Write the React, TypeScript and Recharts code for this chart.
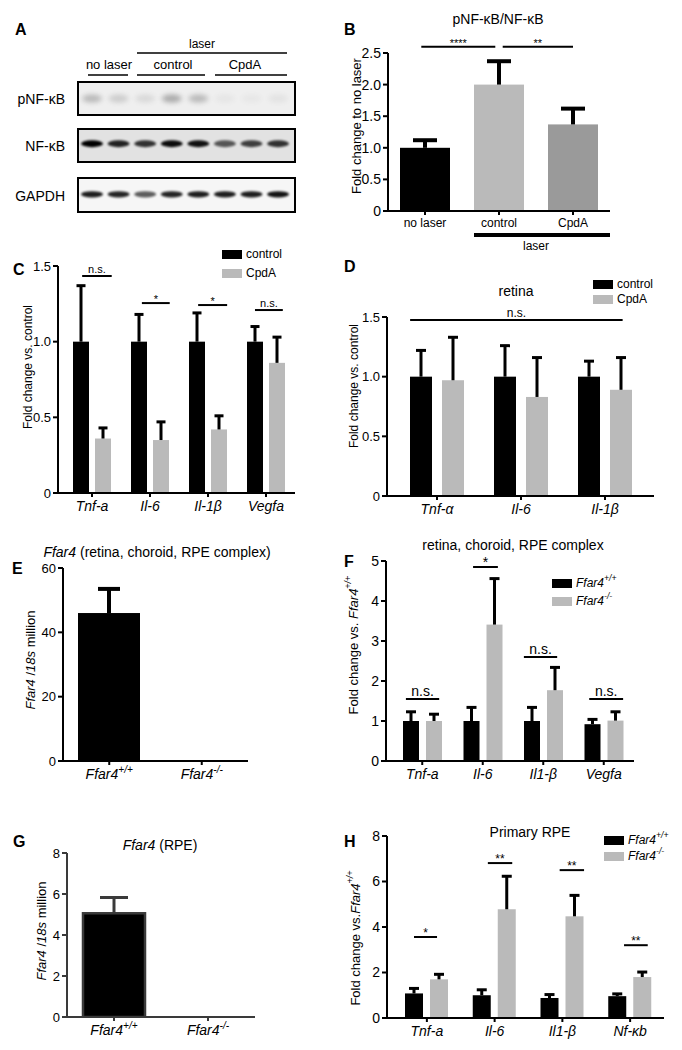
import React from "react";
import { BarChart, Bar, Cell, XAxis, YAxis, ReferenceLine, ScatterChart, Scatter } from "recharts";

const FONT = '"Liberation Sans", Arial, Helvetica, sans-serif';

// A: western blot, relative band intensity per lane
const blotLanes = [1, 2, 3, 4, 5, 6, 7, 8];
const pNfkbBands = [0.35, 0.22, 0.14, 0.45, 0.35, 0.06, 0.05, 0.08];
const nfkbBands = [1.0, 0.85, 0.78, 0.95, 0.92, 0.62, 0.72, 0.78];
const gapdhBands = [0.88, 0.85, 0.62, 0.85, 0.88, 0.88, 0.88, 0.92];

// B: pNF-kB / NF-kB
const bGroups = ["no laser", "control", "CpdA"];
const bMeans = [1.0, 2.0, 1.37];
const bSem = [0.12, 0.37, 0.25];

// C: choroid, control vs CpdA
const cGenes = ["Tnf-a", "Il-6", "Il-1β", "Vegfa"];
const cControl = [1, 1, 1, 1];
const cControlSem = [0.37, 0.18, 0.19, 0.1];
const cCpda = [0.36, 0.35, 0.42, 0.86];
const cCpdaSem = [0.07, 0.12, 0.09, 0.17];

// D: retina
const dGenes = ["Tnf-α", "Il-6", "Il-1β"];
const dControl = [1, 1, 1];
const dControlSem = [0.22, 0.26, 0.13];
const dCpda = [0.97, 0.83, 0.89];
const dCpdaSem = [0.36, 0.33, 0.27];

// E: Ffar4 in retina/choroid/RPE
const genotypes = ["Ffar4^+/+", "Ffar4^-/-"];
const eMeans = [46, 0];
const eSem = [7.5, 0];

// F: retina, choroid, RPE complex
const fGenes = ["Tnf-a", "Il-6", "Il1-β", "Vegfa"];
const fWt = [1.0, 1.0, 1.0, 0.92];
const fWtSem = [0.23, 0.34, 0.34, 0.12];
const fKo = [1.0, 3.41, 1.77, 1.01];
const fKoSem = [0.17, 1.15, 0.57, 0.22];

// G: Ffar4 in RPE
const gMeans = [5.06, 0];
const gSem = [0.77, 0];

// H: primary RPE
const hGenes = ["Tnf-a", "Il-6", "Il1-β", "Nf-κb"];
const hWt = [1.08, 1.0, 0.88, 0.96];
const hWtSem = [0.22, 0.24, 0.15, 0.1];
const hKo = [1.7, 4.78, 4.47, 1.8];
const hKoSem = [0.22, 1.45, 0.92, 0.22];

// significance brackets (x in category units, y in data units)
const bSig = [
  { from: 0.45, to: 1.45, y: 2.6, text: "****" },
  { from: 1.55, to: 2.5, y: 2.6, text: "**" },
];
const cSig = [
  { from: 0.33, to: 0.84, y: 1.434, text: "n.s." },
  { from: 1.36, to: 1.84, y: 1.255, text: "*" },
  { from: 2.33, to: 2.83, y: 1.242, text: "*" },
  { from: 3.31, to: 3.79, y: 1.209, text: "n.s." },
];
const dSig = [{ from: 0.18, to: 2.71, y: 1.475, text: "n.s." }];
const fSig = [
  { from: 0.23, to: 0.78, y: 1.55, text: "n.s." },
  { from: 1.34, to: 1.75, y: 4.85, text: "*" },
  { from: 2.18, to: 2.73, y: 2.6, text: "n.s." },
  { from: 3.26, to: 3.82, y: 1.55, text: "n.s." },
];
const hSig = [
  { from: 0.31, to: 0.65, y: 3.56, text: "*" },
  { from: 1.4, to: 1.76, y: 6.81, text: "**" },
  { from: 2.46, to: 2.82, y: 6.5, text: "**" },
  { from: 3.41, to: 3.76, y: 3.2, text: "**" },
];

const BLACK = "#000";
const LIGHT = "#bababa";
const MID = "#9a9a9a";

type Series = { key: string; values: number[]; sem: number[]; color: string };
type Sig = { from: number; to: number; y: number; text: string };

function Rich({ s, fs, italic = true }: { s: string; fs: number; italic?: boolean }) {
  const [base, sup] = s.split("^");
  return (
    <>
      <tspan fontStyle={italic ? "italic" : "normal"}>{base}</tspan>
      {sup && (
        <tspan dy={-fs * 0.42} fontSize={fs * 0.72} fontStyle="italic">
          {sup}
        </tspan>
      )}
    </>
  );
}

const oneDec = (v: number) => (v === 0 ? "0" : v.toFixed(1));

function makeShape(valKey: string, errKey: string, cap: number, errW: number, errColor: string, stroke?: string) {
  return (p: any) => {
    const { x, y, width, height, fill, payload } = p;
    const v = payload[valKey];
    const err = payload[errKey];
    if (!v || !height || height <= 0) return <g />;
    const top = y - (err * height) / v;
    const cx = x + width / 2;
    return (
      <g>
        <rect x={x} y={y} width={width} height={height} fill={fill} stroke={stroke} strokeWidth={stroke ? 2.5 : 0} />
        {err > 0 && (
          <g stroke={errColor} strokeWidth={errW}>
            <line x1={cx} x2={cx} y1={y} y2={top} />
            <line x1={cx - cap / 2} x2={cx + cap / 2} y1={top} y2={top} />
          </g>
        )}
      </g>
    );
  };
}

function Panel(props: {
  plot: [number, number, number, number];
  categories: string[];
  series: Series[];
  yDomain: [number, number];
  yTicks: number[];
  fmt?: (v: number) => string;
  barSize: number;
  barGap?: number;
  padL?: number;
  padR?: number;
  sigs?: Sig[];
  sigFont?: number;
  cap?: number;
  errW?: number;
  axisColor?: string;
  tickFont?: number;
  catFont?: number;
  italic?: boolean;
  barStroke?: string;
  cellColors?: string[];
}) {
  const {
    plot, categories, series, yDomain, yTicks, fmt, barSize, barGap = 6, padL = 0, padR = 0,
    sigs = [], sigFont = 12, cap = 9, errW = 3, axisColor = BLACK, tickFont = 13, catFont = 14,
    italic = true, barStroke, cellColors,
  } = props;
  const [x0, y0, x1, y1] = plot;
  const YW = 50, TOP = 40, RIGHT = 40, XH = 30, BOTTOM = 10;
  const width = x1 - x0 + YW + RIGHT;
  const height = y1 - y0 + TOP + XH + BOTTOM;
  const n = categories.length;
  const rows = categories.map((c, i) => {
    const r: any = { name: c, pos: i + 0.5 };
    series.forEach((s) => {
      r[s.key] = s.values[i];
      r[s.key + "Err"] = s.sem[i];
    });
    return r;
  });
  return (
    <div style={{ position: "absolute", left: x0 - YW, top: y0 - TOP }}>
      <BarChart width={width} height={height} data={rows} margin={{ top: TOP, left: 0, right: RIGHT, bottom: BOTTOM }} barGap={barGap}>
        <XAxis
          dataKey="pos"
          type="number"
          domain={[0, n]}
          ticks={rows.map((r) => r.pos)}
          allowDataOverflow
          height={XH}
          interval={0}
          padding={{ left: padL, right: padR }}
          axisLine={{ stroke: axisColor, strokeWidth: 2 }}
          tickLine={{ stroke: axisColor, strokeWidth: 2 }}
          tickSize={4}
          tick={(t: any) => (
            <text x={t.x} y={t.y} dy="0.85em" textAnchor="middle" fontSize={catFont} fill="#000">
              <Rich s={categories[Math.round(t.payload.value - 0.5)] ?? ""} fs={catFont} italic={italic} />
            </text>
          )}
        />
        <YAxis
          width={YW}
          domain={yDomain}
          ticks={yTicks}
          interval={0}
          allowDataOverflow
          tickFormatter={fmt}
          axisLine={{ stroke: axisColor, strokeWidth: 2 }}
          tickLine={{ stroke: axisColor, strokeWidth: 2 }}
          tickSize={5}
          tickMargin={2}
          tick={{ fill: "#000", fontSize: tickFont }}
        />
        {series.map((s) => (
          <Bar
            key={s.key}
            dataKey={s.key}
            fill={s.color}
            barSize={barSize}
            isAnimationActive={false}
            shape={makeShape(s.key, s.key + "Err", cap, errW, axisColor, barStroke)}
          >
            {cellColors && cellColors.map((c, i) => <Cell key={i} fill={c} />)}
          </Bar>
        ))}
        {sigs.map((g, i) => (
          <ReferenceLine
            key={i}
            segment={[
              { x: g.from, y: g.y },
              { x: g.to, y: g.y },
            ]}
            stroke="#000"
            strokeWidth={2}
            ifOverflow="visible"
            label={{
              value: g.text,
              position: "top",
              fontSize: sigFont,
              fill: "#000",
              offset: g.text.startsWith("*") ? 0 : 3,
            }}
          />
        ))}
      </BarChart>
    </div>
  );
}

function BlotRow({ left, top, width, height, values, rx, ry, blur, yPos, bg, color }: any) {
  const data = blotLanes.map((lane, i) => ({ lane, y: yPos, z: values[i] }));
  return (
    <div style={{ position: "absolute", left, top, width, height, border: "2px solid #000", background: bg, boxSizing: "border-box" }}>
      <ScatterChart width={width - 4} height={height - 4} margin={{ top: 0, right: 0, bottom: 0, left: 0 }}>
        <XAxis type="number" dataKey="lane" domain={[0.51, 8.6]} hide />
        <YAxis type="number" dataKey="y" domain={[0, 1]} hide />
        <Scatter
          data={data}
          isAnimationActive={false}
          shape={(p: any) => (
            <ellipse cx={p.cx} cy={p.cy} rx={rx} ry={ry} fill={color} opacity={p.payload.z} filter={`url(#${blur})`} />
          )}
        />
      </ScatterChart>
    </div>
  );
}

function LegendItem({ x, y, color, label }: { x: number; y: number; color: string; label: string }) {
  return (
    <g>
      <rect x={x} y={y - 4} width={20} height={9} fill={color} />
      <text x={x + 24} y={y} dominantBaseline="central" fontSize={12}>
        <Rich s={label} fs={12} italic={label.startsWith("Ffar4")} />
      </text>
    </g>
  );
}

function VLabel({ x, y, fs = 12, children }: { x: number; y: number; fs?: number; children: React.ReactNode }) {
  return (
    <text x={x} y={y} transform={`rotate(-90 ${x} ${y})`} textAnchor="middle" dominantBaseline="central" fontSize={fs}>
      {children}
    </text>
  );
}

export default function App() {
  const letter = { fontSize: 16, fontWeight: 700 } as const;
  return (
    <div style={{ position: "absolute", left: 0, top: 0, width: 682, height: 1050, background: "#fff", fontFamily: FONT, color: "#000" }}>
      {/* A */}
      <BlotRow left={77} top={81} width={219} height={35} values={pNfkbBands} rx={10} ry={4} blur="blurSoft" yPos={0.5} bg="#efefef" color="#555" />
      <BlotRow left={77} top={128} width={219} height={35} values={nfkbBands} rx={11} ry={3.5} blur="blurBand" yPos={0.56} bg="#e2e2e2" color="#000" />
      <BlotRow left={77} top={177} width={219} height={36} values={gapdhBands} rx={11} ry={3.2} blur="blurBand" yPos={0.52} bg="#f6f6f6" color="#000" />

      {/* B */}
      <Panel
        plot={[388, 53, 610, 211]}
        categories={bGroups}
        series={[{ key: "ratio", values: bMeans, sem: bSem, color: BLACK }]}
        cellColors={[BLACK, LIGHT, MID]}
        yDomain={[0, 2.5]}
        yTicks={[0, 0.5, 1, 1.5, 2, 2.5]}
        fmt={oneDec}
        barSize={50}
        sigs={bSig}
        sigFont={11}
        cap={24}
        errW={4}
        tickFont={14}
        catFont={12}
        italic={false}
      />

      {/* C */}
      <Panel
        plot={[58, 266, 295, 493]}
        categories={cGenes}
        series={[
          { key: "control", values: cControl, sem: cControlSem, color: BLACK },
          { key: "cpda", values: cCpda, sem: cCpdaSem, color: LIGHT },
        ]}
        yDomain={[0, 1.5]}
        yTicks={[0, 0.5, 1, 1.5]}
        fmt={oneDec}
        barSize={16}
        barGap={6}
        padL={5}
        sigs={cSig}
        sigFont={11}
        cap={9}
        catFont={14}
      />

      {/* D */}
      <Panel
        plot={[387, 317, 654, 496]}
        categories={dGenes}
        series={[
          { key: "control", values: dControl, sem: dControlSem, color: BLACK },
          { key: "cpda", values: dCpda, sem: dCpdaSem, color: LIGHT },
        ]}
        yDomain={[0, 1.5]}
        yTicks={[0, 0.5, 1, 1.5]}
        fmt={oneDec}
        barSize={22}
        barGap={10}
        padL={8}
        padR={7}
        sigs={dSig}
        sigFont={12}
        cap={10}
        catFont={14}
      />

      {/* E */}
      <Panel
        plot={[63, 568, 248, 761]}
        categories={genotypes}
        series={[{ key: "ffar4", values: eMeans, sem: eSem, color: BLACK }]}
        yDomain={[0, 60]}
        yTicks={[0, 20, 40, 60]}
        barSize={62}
        cap={22}
        errW={4}
        catFont={14}
      />

      {/* F */}
      <Panel
        plot={[386, 561, 634, 761]}
        categories={fGenes}
        series={[
          { key: "wt", values: fWt, sem: fWtSem, color: BLACK },
          { key: "ko", values: fKo, sem: fKoSem, color: LIGHT },
        ]}
        yDomain={[0, 5]}
        yTicks={[0, 1, 2, 3, 4, 5]}
        barSize={16}
        barGap={7}
        padL={6}
        sigs={fSig}
        sigFont={14}
        cap={10}
        tickFont={14}
        catFont={14}
      />

      {/* G */}
      <Panel
        plot={[67, 853, 255, 1017]}
        categories={genotypes}
        series={[{ key: "ffar4", values: gMeans, sem: gSem, color: BLACK }]}
        yDomain={[0, 8]}
        yTicks={[0, 2, 4, 6, 8]}
        barSize={62}
        cap={28}
        errW={3}
        axisColor="#3a3a3a"
        barStroke="#3a3a3a"
        catFont={14}
      />

      {/* H */}
      <Panel
        plot={[387, 836, 664, 1018]}
        categories={hGenes}
        series={[
          { key: "wt", values: hWt, sem: hWtSem, color: BLACK },
          { key: "ko", values: hKo, sem: hKoSem, color: LIGHT },
        ]}
        yDomain={[0, 8]}
        yTicks={[0, 2, 4, 6, 8]}
        barSize={18}
        barGap={7}
        padL={6}
        sigs={hSig}
        sigFont={12}
        cap={10}
        tickFont={14}
        catFont={14}
      />

      <svg width={682} height={1050} style={{ position: "absolute", left: 0, top: 0, pointerEvents: "none" }} fontFamily={FONT}>
        <defs>
          <filter id="blurBand" x="-50%" y="-100%" width="200%" height="300%">
            <feGaussianBlur stdDeviation="1.3" />
          </filter>
          <filter id="blurSoft" x="-50%" y="-100%" width="200%" height="300%">
            <feGaussianBlur stdDeviation="2.5" />
          </filter>
        </defs>

        {/* panel letters */}
        <text x={15} y={35} {...letter}>A</text>
        <text x={344} y={35} {...letter}>B</text>
        <text x={13} y={275} {...letter}>C</text>
        <text x={344} y={272} {...letter}>D</text>
        <text x={12} y={574} {...letter}>E</text>
        <text x={344} y={567} {...letter}>F</text>
        <text x={13} y={847} {...letter}>G</text>
        <text x={344} y={847} {...letter}>H</text>

        {/* A annotations */}
        <text x={202} y={48} textAnchor="middle" fontSize={12}>laser</text>
        <line x1={137} x2={287} y1={53} y2={53} stroke="#000" strokeWidth={1.5} />
        <text x={109} y={69} textAnchor="middle" fontSize={13}>no laser</text>
        <text x={173} y={69} textAnchor="middle" fontSize={13}>control</text>
        <text x={245} y={69} textAnchor="middle" fontSize={13}>CpdA</text>
        <line x1={88} x2={128} y1={75} y2={75} stroke="#000" strokeWidth={1.5} />
        <line x1={137} x2={205} y1={75} y2={75} stroke="#000" strokeWidth={1.5} />
        <line x1={215} x2={287} y1={75} y2={75} stroke="#000" strokeWidth={1.5} />
        <text x={65} y={99} textAnchor="end" dominantBaseline="central" fontSize={14}>pNF-κB</text>
        <text x={65} y={146} textAnchor="end" dominantBaseline="central" fontSize={14}>NF-κB</text>
        <text x={65} y={196} textAnchor="end" dominantBaseline="central" fontSize={14}>GAPDH</text>

        {/* B */}
        <text x={498} y={24} textAnchor="middle" fontSize={14}>pNF-κB/NF-κB</text>
        <VLabel x={356} y={126} fs={13}>Fold change to no laser</VLabel>
        <line x1={474} x2={610} y1={235} y2={235} stroke="#000" strokeWidth={4} />
        <text x={536} y={250} textAnchor="middle" fontSize={12}>laser</text>

        {/* C */}
        <VLabel x={28} y={367}>Fold change vs. control</VLabel>
        <LegendItem x={222} y={254} color={BLACK} label="control" />
        <LegendItem x={222} y={273} color={LIGHT} label="CpdA" />

        {/* D */}
        <text x={516} y={296} textAnchor="middle" fontSize={14}>retina</text>
        <VLabel x={354} y={386}>Fold change vs. control</VLabel>
        <LegendItem x={593} y={284} color={BLACK} label="control" />
        <LegendItem x={593} y={299} color={LIGHT} label="CpdA" />

        {/* E */}
        <text x={157} y={557} textAnchor="middle" fontSize={14}>
          <tspan fontStyle="italic">Ffar4</tspan> (retina, choroid, RPE complex)
        </text>
        <VLabel x={30} y={660} fs={13}>
          <tspan fontStyle="italic">Ffar4</tspan> /<tspan fontStyle="italic">18s</tspan> million
        </VLabel>

        {/* F */}
        <text x={513} y={550} textAnchor="middle" fontSize={14}>retina, choroid, RPE complex</text>
        <VLabel x={353} y={645} fs={13}>
          Fold change vs. <tspan fontStyle="italic">Ffar4</tspan>
          <tspan dy={-5} fontSize={9} fontStyle="italic">+/+</tspan>
        </VLabel>
        <LegendItem x={552} y={583} color={BLACK} label="Ffar4^+/+" />
        <LegendItem x={552} y={601} color={LIGHT} label="Ffar4^-/-" />

        {/* G */}
        <text x={160} y={850} textAnchor="middle" fontSize={14}>
          <tspan fontStyle="italic">Ffar4</tspan> (RPE)
        </text>
        <VLabel x={41} y={931} fs={13}>
          <tspan fontStyle="italic">Ffar4</tspan> /<tspan fontStyle="italic">18s</tspan> million
        </VLabel>

        {/* H */}
        <text x={530} y={837} textAnchor="middle" fontSize={14}>Primary RPE</text>
        <VLabel x={355} y={938} fs={13}>
          Fold change vs.<tspan fontStyle="italic">Ffar4</tspan>
          <tspan dy={-5} fontSize={9} fontStyle="italic">+/+</tspan>
        </VLabel>
        <LegendItem x={604} y={840} color={BLACK} label="Ffar4^+/+" />
        <LegendItem x={604} y={856} color={LIGHT} label="Ffar4^-/-" />
      </svg>
    </div>
  );
}
